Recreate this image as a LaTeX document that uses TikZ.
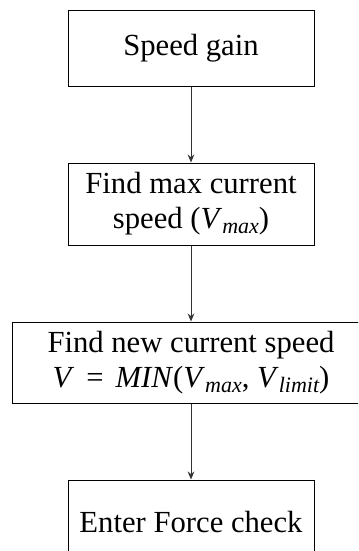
\documentclass[tikz,border=0pt]{standalone}
\usepackage{fontspec}
\setmainfont{Liberation Serif}
\usetikzlibrary{arrows.meta}
\newcommand{\mysub}[1]{\raisebox{-3.6pt}{\fontsize{16.5}{16.5}\selectfont\itshape #1}}
\tikzset{
  box/.style={draw=black, line width=0.75pt, inner sep=0pt, align=center,
    minimum width=184.5pt, font=\fontsize{23}{26.25}\selectfont},
  arr/.style={draw=black!80, line width=0.75pt, -{Stealth[length=6pt,width=5pt]}}
}
\begin{document}
\begin{tikzpicture}[x=0.75pt,y=-0.75pt]
\useasboundingbox (0,0) rectangle (358,551);
\clip (0,0) rectangle (358,551);
\node[box, minimum height=57pt] (n1) at (191,48) {Speed gain};
\node[box, minimum height=61.5pt] (n2) at (191,204) {Find max current\\speed (\textit{V}\mysub{max})};
\node[box, minimum width=268.5pt, minimum height=60.75pt] (n3) at (191,362.5)
  {Find new current speed\\\textit{V}\hspace{9pt}=\hspace{9pt}\textit{MIN}(\textit{V}\mysub{max}, \textit{V}\mysub{limit})};
\node[box, minimum height=63pt] (n4) at (191,522) {Enter Force check};
\draw[arr] (n1) -- (n2);
\draw[arr] (n2) -- (n3);
\draw[arr] (n3) -- (n4);
\end{tikzpicture}
\end{document}
